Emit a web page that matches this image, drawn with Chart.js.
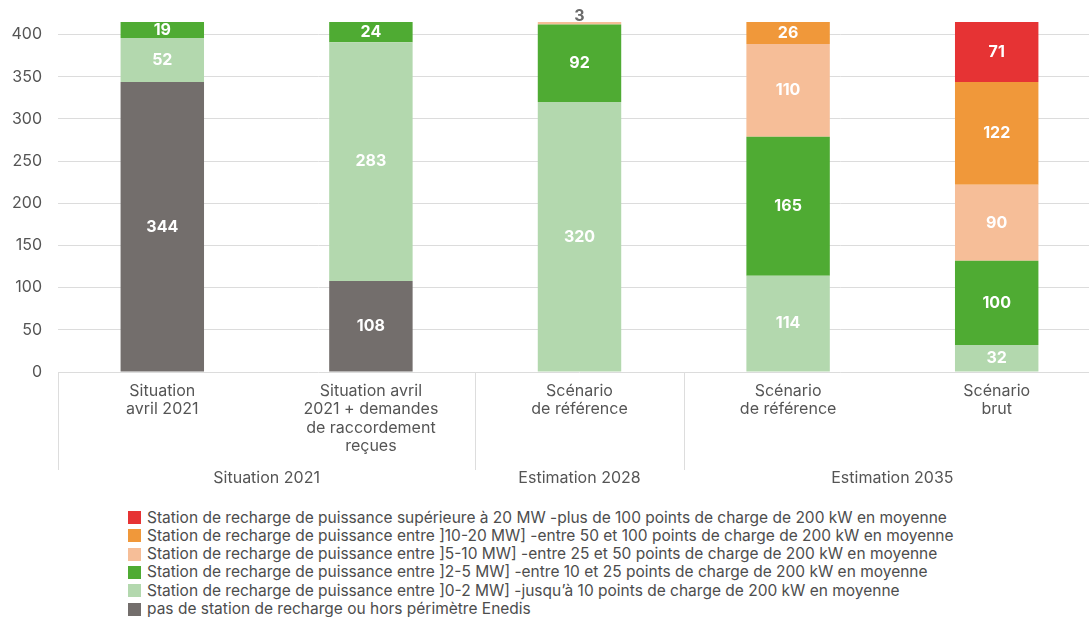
<!DOCTYPE html>
<html><head><meta charset="utf-8">
<script src="https://cdn.jsdelivr.net/npm/chart.js@4/dist/chart.umd.min.js"></script>
<style>
html,body{margin:0;padding:0;background:#fff;overflow:hidden;width:1089px;height:617px;}
#wrap{position:absolute;left:0;top:0;width:1101px;height:500px;}
#legend{position:absolute;left:128px;top:508.5px;font-family:Inter,sans-serif;font-size:15.5px;color:#4d4d4d;}
.row{height:18.3px;line-height:18.3px;white-space:nowrap;display:flex;align-items:center;}
.box{width:13px;height:13px;margin-right:6px;flex:none;}
</style></head>
<body>
<div id="wrap"><canvas id="c"></canvas></div>
<div id="legend"></div>
<script>
const categories = [["Situation","avril 2021"],["Situation avril","2021 + demandes","de raccordement","reçues"],["Scénario","de référence"],["Scénario","de référence"],["Scénario","brut"]];
const groupLabels = ["Situation 2021","Estimation 2028","Estimation 2035"];
const groupStarts = [0,2,3];
const groupEnds = [1,2,4];
const yTicks = [0,50,100,150,200,250,300,350,400];

const seriesNames = [
 "pas de station de recharge ou hors périmètre Enedis",
 "Station de recharge de puissance entre ]0-2 MW] -jusqu’à 10 points de charge de 200 kW en moyenne",
 "Station de recharge de puissance entre ]2-5 MW] -entre 10 et 25 points de charge de 200 kW en moyenne",
 "Station de recharge de puissance entre ]5-10 MW] -entre 25 et 50 points de charge de 200 kW en moyenne",
 "Station de recharge de puissance entre ]10-20 MW] -entre 50 et 100 points de charge de 200 kW en moyenne",
 "Station de recharge de puissance supérieure à 20 MW -plus de 100 points de charge de 200 kW en moyenne"
];
const horsPerimetre = [344,108,null,null,null];
const p0_2 = [52,283,320,114,32];
const p2_5 = [19,24,92,165,100];
const p5_10 = [null,null,3,110,90];
const p10_20 = [null,null,null,26,122];
const p20plus = [null,null,null,null,71];
const seriesColors = ["#736e6c","#b3d8ae","#4fab33","#f6be98","#f0983a","#e63334"];
const seriesValues = [horsPerimetre,p0_2,p2_5,p5_10,p10_20,p20plus];

const FONT = "Inter, sans-serif";

const labelPlugin = {
  id:'labels',
  afterDatasetsDraw(chart){
    const ctx = chart.ctx;
    ctx.save();
    ctx.textAlign='center'; ctx.textBaseline='middle';
    chart.data.datasets.forEach((ds,di)=>{
      const meta = chart.getDatasetMeta(di);
      meta.data.forEach((el,i)=>{
        const v = ds.data[i];
        if(v==null) return;
        ctx.font='bold 16px '+FONT;
        if(v<10){
          ctx.fillStyle='#6b6b6b';
          ctx.fillText(String(v), el.x, el.y-6);
        } else {
          ctx.fillStyle='#ffffff';
          ctx.fillText(String(v), el.x, (el.y+el.base)/2);
        }
      });
    });
    ctx.restore();
  }
};

const groupPlugin = {
  id:'groups',
  afterDraw(chart){
    const ctx = chart.ctx, xs = chart.scales.x, ca = chart.chartArea;
    const half = (xs.getPixelForValue(1)-xs.getPixelForValue(0))/2;
    ctx.save();
    ctx.strokeStyle='#dddddd'; ctx.lineWidth=1;
    const edges = [];
    groupStarts.forEach(s=>edges.push(xs.getPixelForValue(s)-half));
    edges.push(xs.getPixelForValue(groupEnds[groupEnds.length-1])+half);
    edges.forEach(x=>{
      const xx=Math.round(x)+0.5;
      ctx.beginPath(); ctx.moveTo(xx,ca.bottom); ctx.lineTo(xx,ca.bottom+98); ctx.stroke();
    });
    ctx.fillStyle='#555555'; ctx.font='16px '+FONT; ctx.textAlign='center'; ctx.textBaseline='middle';
    groupLabels.forEach((g,i)=>{
      const x1 = xs.getPixelForValue(groupStarts[i])-half;
      const x2 = xs.getPixelForValue(groupEnds[i])+half;
      ctx.fillText(g,(x1+x2)/2, ca.bottom+106);
    });
    ctx.restore();
  }
};

new Chart(document.getElementById('c'),{
  type:'bar',
  data:{
    labels:categories,
    datasets:seriesValues.map((d,i)=>({label:seriesNames[i],data:d,backgroundColor:seriesColors[i],borderWidth:0,categoryPercentage:1,barPercentage:0.4}))
  },
  options:{
    responsive:true, maintainAspectRatio:false, animation:false,
    layout:{padding:{top:22,left:0,right:0,bottom:0}},
    plugins:{legend:{display:false},tooltip:{enabled:false}},
    scales:{
      x:{stacked:true,
        grid:{display:false,drawTicks:false},
        border:{display:false},
        ticks:{color:'#555555',font:{family:FONT,size:16,lineHeight:1.15},padding:10,maxRotation:0,autoSkip:false},
        afterFit(s){s.height=128; s.paddingLeft=0; s.paddingRight=0;}
      },
      y:{stacked:true,min:0,max:415,
        grid:{color:'#dcdcdc',drawTicks:false,lineWidth:1},
        border:{display:false},
        ticks:{color:'#555555',font:{family:FONT,size:16},padding:16,stepSize:50},
        afterBuildTicks(s){s.ticks = yTicks.map(v=>({value:v}));},
        afterFit(s){s.width=58; s.paddingTop=0; s.paddingBottom=0;}
      }
    }
  },
  plugins:[labelPlugin,groupPlugin]
});

const leg = document.getElementById('legend');
for(let i=seriesNames.length-1;i>=0;i--){
  const r=document.createElement('div'); r.className='row';
  const b=document.createElement('span'); b.className='box'; b.style.background=seriesColors[i];
  const t=document.createElement('span'); t.textContent=seriesNames[i];
  r.appendChild(b); r.appendChild(t); leg.appendChild(r);
}
</script>
</body></html>
